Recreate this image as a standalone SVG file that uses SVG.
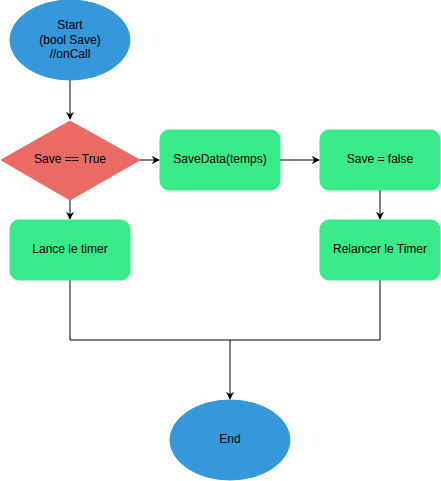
<svg xmlns="http://www.w3.org/2000/svg" width="441" height="481" viewBox="0 0 441 481">
<style>
.t{font-family:"Liberation Sans",Arial,sans-serif;font-size:12px;fill:#000;text-anchor:middle;dominant-baseline:central}
.box{fill:#3AE987;stroke:#3AE987}
.oval{fill:#3498DB;stroke:#3498DB}
.c{fill:none;stroke:#000;stroke-width:1}
</style>
<defs>
<marker id="a" viewBox="0 0 10 10" refX="9" refY="5" markerWidth="8" markerHeight="8" markerUnits="userSpaceOnUse" orient="auto">
<path d="M0,0 L10,5 L0,10 L3,5 Z" fill="#000"/>
</marker>
</defs>
<rect width="441" height="481" fill="#fff"/>
<g id="connectors">
<path class="c" d="M70,80 V119" marker-end="url(#a)"/>
<path class="c" d="M140,160 H159" marker-end="url(#a)"/>
<path class="c" d="M280,160 H319" marker-end="url(#a)"/>
<path class="c" d="M380,190 V219" marker-end="url(#a)"/>
<path class="c" d="M70,200 V219" marker-end="url(#a)"/>
<path class="c" d="M70,280 V340 H230 V399" marker-end="url(#a)"/>
<path class="c" d="M380,280 V340 H230"/>
</g>
<g id="start">
<ellipse class="oval" cx="70" cy="40" rx="60" ry="40"/>
<text class="t" x="70" y="25">Start</text>
<text class="t" x="70" y="40">(bool Save)</text>
<text class="t" x="70" y="54">//onCall</text>
</g>
<g id="decision">
<polygon points="70,121 140,160 70,200 1,160" fill="#EA6B66" stroke="#EA6B66"/>
<text class="t" x="70" y="159">Save == True</text>
</g>
<g id="savedata">
<rect class="box" x="160" y="130" width="120" height="60" rx="9"/>
<text class="t" x="220" y="159">SaveData(temps)</text>
</g>
<g id="savefalse">
<rect class="box" x="320" y="130" width="120" height="60" rx="9"/>
<text class="t" x="380" y="159">Save = false</text>
</g>
<g id="lance">
<rect class="box" x="10" y="220" width="120" height="60" rx="9"/>
<text class="t" x="70" y="249">Lance le timer</text>
</g>
<g id="relancer">
<rect class="box" x="320" y="220" width="120" height="60" rx="9"/>
<text class="t" x="380" y="249">Relancer le Timer</text>
</g>
<g id="end">
<ellipse class="oval" cx="230" cy="440" rx="60" ry="40"/>
<text class="t" x="230" y="439">End</text>
</g>
</svg>
